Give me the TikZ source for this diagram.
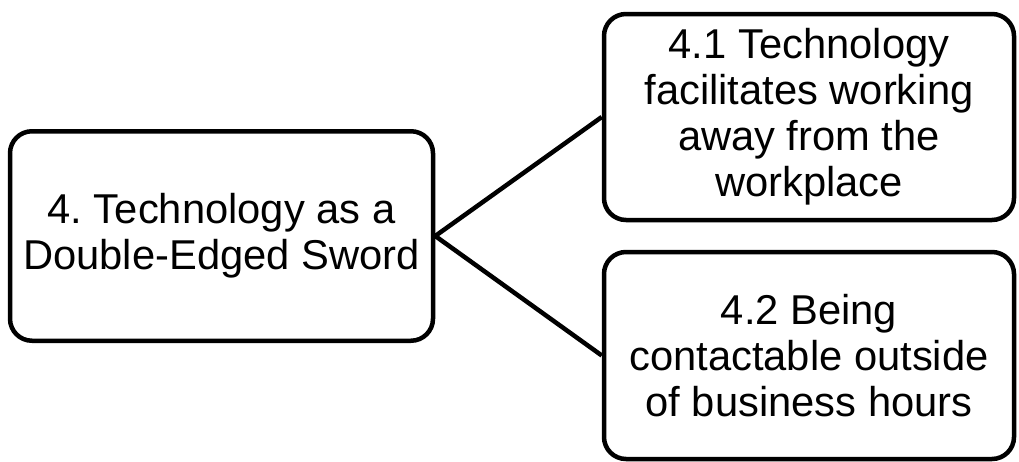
\documentclass[tikz,border=0pt]{standalone}
\usepackage{fontspec}
\setmainfont{Liberation Sans}
\usepackage{tikz}
\usetikzlibrary{positioning}
\frenchspacing
\tikzstyle{every theme} = [draw, line width=4.5pt, rounded corners=22pt, inner sep=0pt, align=center, font=\fontsize{41.7}{46}\selectfont]
\tikzstyle{theme} = [every theme]
\tikzstyle{link} = [draw, line width=4.5pt]

\begin{document}
\begin{tikzpicture}[x=1pt,y=-1pt]
        \useasboundingbox (0,0) rectangle (1019,461);

        \node[theme, minimum width=423pt, minimum height=209.5pt] (sword) at (221.5,236) {4. Technology as a\\Double-Edged Sword};
        \node[theme, minimum width=410pt, minimum height=206pt] (away) at (809,117) {4.1 Technology\\facilitates working\\away from the\\workplace};
        \node[theme, minimum width=410pt, minimum height=207pt] (contact) at (809,355.5) {4.2 Being\\contactable outside\\of business hours};

        \path[link] (sword.east) -- (away.west);
        \path[link] (sword.east) -- (contact.west);
    \end{tikzpicture}
\end{document}
